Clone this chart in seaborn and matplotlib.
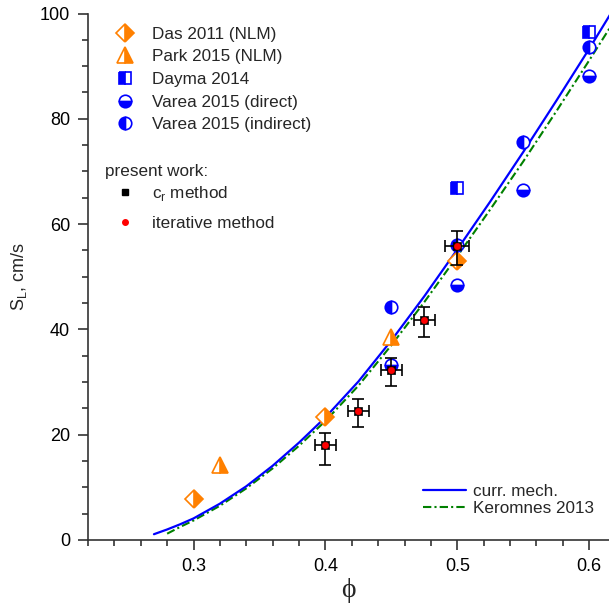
import numpy as np
import pandas as pd
import matplotlib
matplotlib.use("Agg")
import matplotlib.pyplot as plt
import seaborn as sns
from matplotlib.lines import Line2D

# literature data
phi_das = [0.30, 0.40, 0.50]
sl_das = [7.7, 23.4, 52.9]
phi_park = [0.32, 0.45]
sl_park = [14.3, 38.5]
phi_dayma = [0.50, 0.60]
sl_dayma = [66.8, 96.5]
phi_varea = [0.45, 0.50, 0.55, 0.60]
sl_varea_direct = [33.2, 48.4, 66.5, 88.1]
sl_varea_indirect = [44.3, 56.0, 75.5, 93.7]

# present work
phi_present = [0.400, 0.425, 0.450, 0.475, 0.500]
sl_present = [18.0, 24.5, 32.3, 41.7, 55.9]
sl_err_lo = [3.7, 3.1, 3.0, 3.1, 3.7]
sl_err_hi = [2.4, 2.2, 2.2, 2.5, 2.7]
phi_err = [0.008, 0.008, 0.008, 0.008, 0.009]

# simulations
phi_curr = [0.27, 0.28, 0.29, 0.30, 0.32, 0.34, 0.36, 0.38, 0.40, 0.425, 0.45,
            0.475, 0.50, 0.525, 0.55, 0.575, 0.60, 0.62]
sl_curr = [1.1, 2.0, 3.0, 4.1, 6.9, 10.2, 14.1, 18.5, 23.3, 30.1, 37.9,
           46.3, 55.2, 64.3, 73.7, 83.4, 93.3, 101.5]
phi_ker = [0.28, 0.29, 0.30, 0.32, 0.34, 0.36, 0.38, 0.40, 0.425, 0.45,
           0.475, 0.50, 0.525, 0.55, 0.575, 0.60, 0.62]
sl_ker = [1.2, 2.5, 3.7, 6.5, 9.8, 13.6, 17.9, 22.6, 29.3, 37.0,
          45.2, 53.9, 62.8, 71.9, 81.4, 91.1, 99.0]

orange = "#FF8000"
blue = "#0000FF"
green = "#008000"
dash_dot = (0, (4, 1.5, 1, 1.5))

sns.set_style("ticks")
plt.rcParams["font.family"] = ["Liberation Sans", "DejaVu Sans"]
plt.rcParams["axes.edgecolor"] = "#333333"
plt.rcParams["xtick.color"] = "#333333"
plt.rcParams["ytick.color"] = "#333333"
plt.rcParams["xtick.labelcolor"] = "black"
plt.rcParams["ytick.labelcolor"] = "black"

fig = plt.figure(figsize=(6.09, 6.07), dpi=100)
ax = fig.add_axes([88 / 609, 67 / 607, 521 / 609, 526.5 / 607])

curves = pd.DataFrame({"phi": phi_ker, "sl": sl_ker})
sns.lineplot(data=curves, x="phi", y="sl", color=green, lw=1.5,
             linestyle=dash_dot, sort=False, ax=ax, zorder=2)
curves = pd.DataFrame({"phi": phi_curr, "sl": sl_curr})
sns.lineplot(data=curves, x="phi", y="sl", color=blue, lw=1.6,
             sort=False, ax=ax, zorder=3)

half = dict(ls="none", markerfacecoloralt="white", mew=1.2, zorder=4)
h_das, = ax.plot(phi_das, sl_das, marker="D", fillstyle="right", color=orange,
                 mec=orange, ms=9.5, **half)
h_park, = ax.plot(phi_park, sl_park, marker="^", fillstyle="right", color=orange,
                  mec=orange, ms=12, **half)
h_dayma, = ax.plot(phi_dayma, sl_dayma, marker="s", fillstyle="left", color=blue,
                   mec=blue, ms=8.5, **half)
h_vd, = ax.plot(phi_varea, sl_varea_direct, marker="o", fillstyle="bottom", color=blue,
                mec=blue, ms=9, **half)
h_vi, = ax.plot(phi_varea, sl_varea_indirect, marker="o", fillstyle="left", color=blue,
                mec=blue, ms=9, **half)

ax.errorbar(phi_present, sl_present, yerr=[sl_err_lo, sl_err_hi], xerr=phi_err,
            fmt="none", ecolor="black", elinewidth=1.2, capsize=4.5, capthick=1.2,
            zorder=5)
sns.scatterplot(x=phi_present, y=sl_present, marker="s", color="black", s=38,
                edgecolor="black", linewidth=0.5, zorder=6, ax=ax)
sns.scatterplot(x=phi_present, y=sl_present, marker="o", color="red", s=22,
                edgecolor="red", linewidth=0.3, zorder=7, ax=ax)

ax.set_xlim(0.22, 0.615)
ax.set_ylim(0, 100)
ax.set_xticks([0.3, 0.4, 0.5, 0.6])
ax.set_xticks(np.arange(0.22, 0.62, 0.02), minor=True)
ax.set_yticks([0, 20, 40, 60, 80, 100])
ax.set_yticks(np.arange(0, 101, 5), minor=True)
ax.tick_params(which="major", length=7, width=1.2, labelsize=13, pad=6)
ax.tick_params(which="minor", length=4, width=1.2)
for s in ["left", "bottom"]:
    ax.spines[s].set_linewidth(1.2)
sns.despine(ax=ax)

ax.set_xlabel("\u03d5", family=["Liberation Serif", "DejaVu Serif"], fontsize=20, labelpad=2)
ax.set_ylabel(r"S$_\mathregular{L}$, cm/s", fontsize=13, labelpad=8)

leg1 = ax.legend([h_das, h_park, h_dayma, h_vd, h_vi],
                 ["Das 2011 (NLM)", "Park 2015 (NLM)", "Dayma 2014",
                  "Varea 2015 (direct)", "Varea 2015 (indirect)"],
                 loc="upper left", bbox_to_anchor=(0.045, 0.975), frameon=False,
                 fontsize=12.3, borderpad=0, borderaxespad=0, handlelength=1.6,
                 handletextpad=0.75, labelspacing=0.45)
ax.add_artist(leg1)

ax.text(0.033, 0.699, "present work:", transform=ax.transAxes, fontsize=12.3,
        va="center", ha="left")
h_cr = Line2D([], [], ls="none", marker="s", color="black", ms=5)
h_it = Line2D([], [], ls="none", marker="o", color="red", ms=4)
leg2 = ax.legend([h_cr, h_it], [r"c$_\mathregular{r}$ method", "iterative method"],
                 loc="upper left", bbox_to_anchor=(0.045, 0.676), frameon=False,
                 fontsize=12.3, borderpad=0, borderaxespad=0, handlelength=1.6,
                 handletextpad=0.75, labelspacing=0.75)
ax.add_artist(leg2)

h_c = Line2D([], [], color=blue, lw=1.6)
h_k = Line2D([], [], color=green, lw=1.5, linestyle=dash_dot)
ax.legend([h_c, h_k], ["curr. mech.", "Keromnes 2013"], loc="lower left",
          bbox_to_anchor=(0.643, 0.045), frameon=False, fontsize=12.3, borderpad=0,
          borderaxespad=0, handlelength=2.5, handletextpad=0.42, labelspacing=0.15)

fig.savefig("out.png", dpi=100)
